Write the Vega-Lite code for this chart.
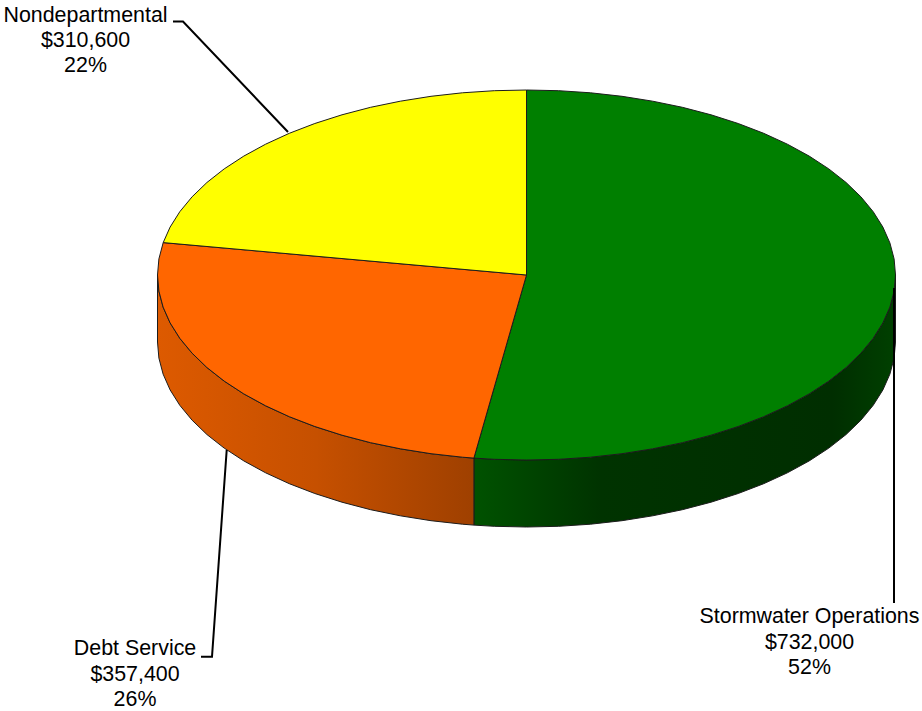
{
  "$schema": "https://vega.github.io/schema/vega-lite/v6.json",
  "width": 922,
  "height": 711,
  "padding": 0,
  "autosize": {"type": "fit", "contains": "padding"},
  "background": "#ffffff",
  "view": {"stroke": null},
  "datasets": {
    "walls": [
      {"slice":"Stormwater Operations","x":369,"top":0,"bottom":-67},{"slice":"Stormwater Operations","x":367.6,"top":-16.1,"bottom":-83.1},{"slice":"Stormwater Operations","x":363.4,"top":-32.1,"bottom":-99.1},{"slice":"Stormwater Operations","x":356.4,"top":-47.9,"bottom":-114.9},{"slice":"Stormwater Operations","x":346.7,"top":-63.3,"bottom":-130.3},{"slice":"Stormwater Operations","x":334.4,"top":-78.2,"bottom":-145.2},{"slice":"Stormwater Operations","x":319.6,"top":-92.5,"bottom":-159.5},{"slice":"Stormwater Operations","x":302.3,"top":-106.1,"bottom":-173.1},{"slice":"Stormwater Operations","x":282.7,"top":-118.9,"bottom":-185.9},{"slice":"Stormwater Operations","x":260.9,"top":-130.8,"bottom":-197.8},{"slice":"Stormwater Operations","x":237.2,"top":-141.7,"bottom":-208.7},{"slice":"Stormwater Operations","x":211.7,"top":-151.5,"bottom":-218.5},{"slice":"Stormwater Operations","x":184.5,"top":-160.2,"bottom":-227.2},{"slice":"Stormwater Operations","x":155.9,"top":-167.7,"bottom":-234.7},{"slice":"Stormwater Operations","x":126.2,"top":-173.8,"bottom":-240.8},{"slice":"Stormwater Operations","x":95.5,"top":-178.7,"bottom":-245.7},{"slice":"Stormwater Operations","x":64.1,"top":-182.2,"bottom":-249.2},{"slice":"Stormwater Operations","x":32.2,"top":-184.3,"bottom":-251.3},{"slice":"Stormwater Operations","x":0,"top":-185,"bottom":-252},{"slice":"Stormwater Operations","x":-32.2,"top":-184.3,"bottom":-251.3},{"slice":"Stormwater Operations","x":-52.6,"top":-183.1,"bottom":-250.1},
      {"slice":"Debt Service","x":-52.6,"top":-183.1,"bottom":-250.1},{"slice":"Debt Service","x":-64.1,"top":-182.2,"bottom":-249.2},{"slice":"Debt Service","x":-95.5,"top":-178.7,"bottom":-245.7},{"slice":"Debt Service","x":-126.2,"top":-173.8,"bottom":-240.8},{"slice":"Debt Service","x":-155.9,"top":-167.7,"bottom":-234.7},{"slice":"Debt Service","x":-184.5,"top":-160.2,"bottom":-227.2},{"slice":"Debt Service","x":-211.7,"top":-151.5,"bottom":-218.5},{"slice":"Debt Service","x":-237.2,"top":-141.7,"bottom":-208.7},{"slice":"Debt Service","x":-260.9,"top":-130.8,"bottom":-197.8},{"slice":"Debt Service","x":-282.7,"top":-118.9,"bottom":-185.9},{"slice":"Debt Service","x":-302.3,"top":-106.1,"bottom":-173.1},{"slice":"Debt Service","x":-319.6,"top":-92.5,"bottom":-159.5},{"slice":"Debt Service","x":-334.4,"top":-78.2,"bottom":-145.2},{"slice":"Debt Service","x":-346.7,"top":-63.3,"bottom":-130.3},{"slice":"Debt Service","x":-356.4,"top":-47.9,"bottom":-114.9},{"slice":"Debt Service","x":-363.4,"top":-32.1,"bottom":-99.1},{"slice":"Debt Service","x":-367.6,"top":-16.1,"bottom":-83.1},{"slice":"Debt Service","x":-369,"top":0,"bottom":-67}
    ],
    "faces": [
      {"slice":"Stormwater Operations","step":0,"x":0,"y":0},{"slice":"Stormwater Operations","step":1,"x":0,"y":185},{"slice":"Stormwater Operations","step":2,"x":32.2,"y":184.3},{"slice":"Stormwater Operations","step":3,"x":64.1,"y":182.2},{"slice":"Stormwater Operations","step":4,"x":95.5,"y":178.7},{"slice":"Stormwater Operations","step":5,"x":126.2,"y":173.8},{"slice":"Stormwater Operations","step":6,"x":155.9,"y":167.7},{"slice":"Stormwater Operations","step":7,"x":184.5,"y":160.2},{"slice":"Stormwater Operations","step":8,"x":211.7,"y":151.5},{"slice":"Stormwater Operations","step":9,"x":237.2,"y":141.7},{"slice":"Stormwater Operations","step":10,"x":260.9,"y":130.8},{"slice":"Stormwater Operations","step":11,"x":282.7,"y":118.9},{"slice":"Stormwater Operations","step":12,"x":302.3,"y":106.1},{"slice":"Stormwater Operations","step":13,"x":319.6,"y":92.5},{"slice":"Stormwater Operations","step":14,"x":334.4,"y":78.2},{"slice":"Stormwater Operations","step":15,"x":346.7,"y":63.3},{"slice":"Stormwater Operations","step":16,"x":356.4,"y":47.9},{"slice":"Stormwater Operations","step":17,"x":363.4,"y":32.1},{"slice":"Stormwater Operations","step":18,"x":367.6,"y":16.1},{"slice":"Stormwater Operations","step":19,"x":369,"y":0},{"slice":"Stormwater Operations","step":20,"x":367.6,"y":-16.1},{"slice":"Stormwater Operations","step":21,"x":363.4,"y":-32.1},{"slice":"Stormwater Operations","step":22,"x":356.4,"y":-47.9},{"slice":"Stormwater Operations","step":23,"x":346.7,"y":-63.3},{"slice":"Stormwater Operations","step":24,"x":334.4,"y":-78.2},{"slice":"Stormwater Operations","step":25,"x":319.6,"y":-92.5},{"slice":"Stormwater Operations","step":26,"x":302.3,"y":-106.1},{"slice":"Stormwater Operations","step":27,"x":282.7,"y":-118.9},{"slice":"Stormwater Operations","step":28,"x":260.9,"y":-130.8},{"slice":"Stormwater Operations","step":29,"x":237.2,"y":-141.7},{"slice":"Stormwater Operations","step":30,"x":211.7,"y":-151.5},{"slice":"Stormwater Operations","step":31,"x":184.5,"y":-160.2},{"slice":"Stormwater Operations","step":32,"x":155.9,"y":-167.7},{"slice":"Stormwater Operations","step":33,"x":126.2,"y":-173.8},{"slice":"Stormwater Operations","step":34,"x":95.5,"y":-178.7},{"slice":"Stormwater Operations","step":35,"x":64.1,"y":-182.2},{"slice":"Stormwater Operations","step":36,"x":32.2,"y":-184.3},{"slice":"Stormwater Operations","step":37,"x":0,"y":-185},{"slice":"Stormwater Operations","step":38,"x":-32.2,"y":-184.3},{"slice":"Stormwater Operations","step":39,"x":-52.6,"y":-183.1},{"slice":"Stormwater Operations","step":40,"x":0,"y":0},
      {"slice":"Debt Service","step":0,"x":0,"y":0},{"slice":"Debt Service","step":1,"x":-52.6,"y":-183.1},{"slice":"Debt Service","step":2,"x":-64.1,"y":-182.2},{"slice":"Debt Service","step":3,"x":-95.5,"y":-178.7},{"slice":"Debt Service","step":4,"x":-126.2,"y":-173.8},{"slice":"Debt Service","step":5,"x":-155.9,"y":-167.7},{"slice":"Debt Service","step":6,"x":-184.5,"y":-160.2},{"slice":"Debt Service","step":7,"x":-211.7,"y":-151.5},{"slice":"Debt Service","step":8,"x":-237.2,"y":-141.7},{"slice":"Debt Service","step":9,"x":-260.9,"y":-130.8},{"slice":"Debt Service","step":10,"x":-282.7,"y":-118.9},{"slice":"Debt Service","step":11,"x":-302.3,"y":-106.1},{"slice":"Debt Service","step":12,"x":-319.6,"y":-92.5},{"slice":"Debt Service","step":13,"x":-334.4,"y":-78.2},{"slice":"Debt Service","step":14,"x":-346.7,"y":-63.3},{"slice":"Debt Service","step":15,"x":-356.4,"y":-47.9},{"slice":"Debt Service","step":16,"x":-363.4,"y":-32.1},{"slice":"Debt Service","step":17,"x":-367.6,"y":-16.1},{"slice":"Debt Service","step":18,"x":-369,"y":0},{"slice":"Debt Service","step":19,"x":-367.6,"y":16.1},{"slice":"Debt Service","step":20,"x":-363.3,"y":32.4},{"slice":"Debt Service","step":21,"x":0,"y":0},
      {"slice":"Nondepartmental","step":0,"x":0,"y":0},{"slice":"Nondepartmental","step":1,"x":-363.3,"y":32.4},{"slice":"Nondepartmental","step":2,"x":-356.4,"y":47.9},{"slice":"Nondepartmental","step":3,"x":-346.7,"y":63.3},{"slice":"Nondepartmental","step":4,"x":-334.4,"y":78.2},{"slice":"Nondepartmental","step":5,"x":-319.6,"y":92.5},{"slice":"Nondepartmental","step":6,"x":-302.3,"y":106.1},{"slice":"Nondepartmental","step":7,"x":-282.7,"y":118.9},{"slice":"Nondepartmental","step":8,"x":-260.9,"y":130.8},{"slice":"Nondepartmental","step":9,"x":-237.2,"y":141.7},{"slice":"Nondepartmental","step":10,"x":-211.7,"y":151.5},{"slice":"Nondepartmental","step":11,"x":-184.5,"y":160.2},{"slice":"Nondepartmental","step":12,"x":-155.9,"y":167.7},{"slice":"Nondepartmental","step":13,"x":-126.2,"y":173.8},{"slice":"Nondepartmental","step":14,"x":-95.5,"y":178.7},{"slice":"Nondepartmental","step":15,"x":-64.1,"y":182.2},{"slice":"Nondepartmental","step":16,"x":-32.2,"y":184.3},{"slice":"Nondepartmental","step":17,"x":0,"y":185},{"slice":"Nondepartmental","step":18,"x":0,"y":0}
    ],
    "leaders": [
      {"slice":"Nondepartmental","step":0,"x":-353.5,"y":253.5},{"slice":"Nondepartmental","step":1,"x":-343.5,"y":253.5},{"slice":"Nondepartmental","step":2,"x":-238.5,"y":143},
      {"slice":"Debt Service","step":0,"x":-299.8,"y":-175},{"slice":"Debt Service","step":1,"x":-314.5,"y":-381.7},{"slice":"Debt Service","step":2,"x":-325.5,"y":-381.7},
      {"slice":"Stormwater Operations","step":0,"x":367.5,"y":-13},{"slice":"Stormwater Operations","step":1,"x":367.5,"y":-328}
    ],
    "labels": [
      {"text":"Nondepartmental","x":-441,"y":253},{"text":"$310,600","x":-441,"y":228},{"text":"22%","x":-441,"y":203},
      {"text":"Debt Service","x":-391.5,"y":-380},{"text":"$357,400","x":-391.5,"y":-406},{"text":"26%","x":-391.5,"y":-431},
      {"text":"Stormwater Operations","x":283,"y":-348},{"text":"$732,000","x":283,"y":-374},{"text":"52%","x":283,"y":-399}
    ]
  },
  "resolve": {"scale": {"x": "shared", "y": "shared"}},
  "layer": [
    {
      "data": {"name": "walls"},
      "transform": [{"filter": "datum.slice === 'Stormwater Operations'"}],
      "mark": {
        "type": "area",
        "strokeWidth": 1,
        "stroke": "#1c1c1c",
        "color": {
          "gradient": "linear", "x1": 0, "x2": 1, "y1": 0, "y2": 0,
          "stops": [
            {"offset": 0, "color": "#005200"},
            {"offset": 0.3, "color": "#003300"},
            {"offset": 0.85, "color": "#002e00"},
            {"offset": 1, "color": "#004000"}
          ]
        }
      },
      "encoding": {
        "x": {"field": "x", "type": "quantitative", "axis": null, "scale": {"domain": [-526.5, 395.5], "nice": false, "zero": false}},
        "y": {"field": "top", "type": "quantitative", "axis": null, "scale": {"domain": [-436, 275], "nice": false, "zero": false}},
        "y2": {"field": "bottom"}
      }
    },
    {
      "data": {"name": "walls"},
      "transform": [{"filter": "datum.slice === 'Debt Service'"}],
      "mark": {
        "type": "area",
        "strokeWidth": 1,
        "stroke": "#1c1c1c",
        "color": {
          "gradient": "linear", "x1": 0, "x2": 1, "y1": 0, "y2": 0,
          "stops": [
            {"offset": 0, "color": "#dd5a00"},
            {"offset": 0.5, "color": "#c65000"},
            {"offset": 1, "color": "#9f4000"}
          ]
        }
      },
      "encoding": {
        "x": {"field": "x", "type": "quantitative", "axis": null},
        "y": {"field": "top", "type": "quantitative", "axis": null},
        "y2": {"field": "bottom"}
      }
    },
    {
      "data": {"name": "faces"},
      "mark": {"type": "line", "stroke": "#1c1c1c", "strokeWidth": 1, "strokeJoin": "miter"},
      "encoding": {
        "x": {"field": "x", "type": "quantitative", "axis": null},
        "y": {"field": "y", "type": "quantitative", "axis": null},
        "order": {"field": "step", "type": "quantitative"},
        "fill": {
          "field": "slice",
          "type": "nominal",
          "legend": null,
          "scale": {"domain": ["Stormwater Operations", "Debt Service", "Nondepartmental"], "range": ["#007f00", "#ff6600", "#ffff00"]}
        }
      }
    },
    {
      "data": {"name": "leaders"},
      "mark": {"type": "line", "stroke": "#000000", "strokeWidth": 2, "strokeJoin": "miter"},
      "encoding": {
        "x": {"field": "x", "type": "quantitative", "axis": null},
        "y": {"field": "y", "type": "quantitative", "axis": null},
        "order": {"field": "step", "type": "quantitative"},
        "detail": {"field": "slice"}
      }
    },
    {
      "data": {"name": "labels"},
      "mark": {"type": "text", "font": "Liberation Sans", "fontSize": 21.4, "color": "#000000", "align": "center", "baseline": "alphabetic"},
      "encoding": {
        "x": {"field": "x", "type": "quantitative", "axis": null},
        "y": {"field": "y", "type": "quantitative", "axis": null},
        "text": {"field": "text"}
      }
    }
  ]
}
